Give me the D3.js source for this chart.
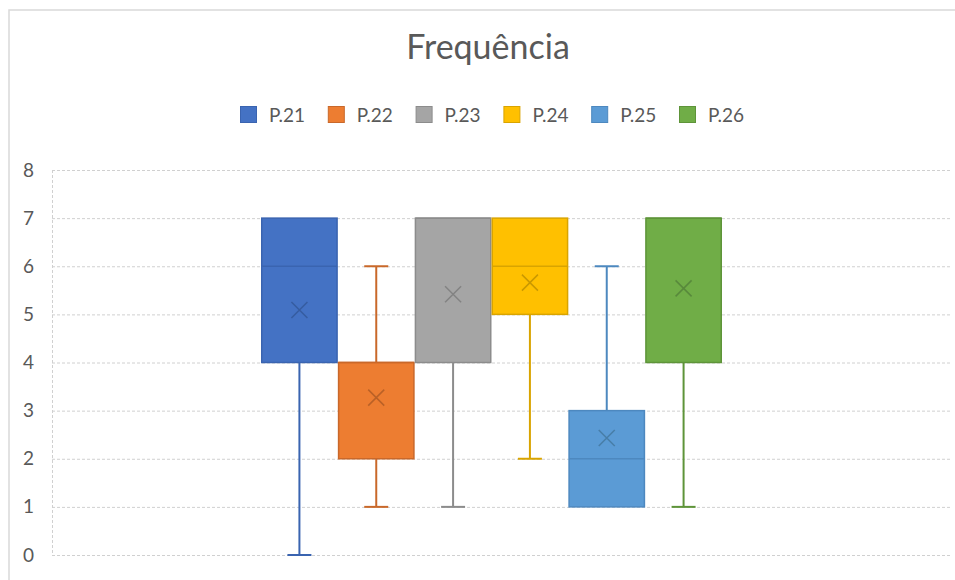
<!DOCTYPE html>
<html>
<head>
<meta charset="utf-8">
<script src="https://cdn.jsdelivr.net/npm/d3@7"></script>
<style>
  html, body { margin: 0; padding: 0; background: #ffffff; }
  svg { display: block; font-family: Lato, "Open Sans", sans-serif; }
</style>
</head>
<body>
<svg id="chart" width="955" height="580"></svg>
<script>
// ---- data ----
const series   = ["P.21", "P.22", "P.23", "P.24", "P.25", "P.26"];
const mins     = [0, 1, 1, 2, 1, 1];
const q1s      = [4, 2, 4, 5, 1, 4];
const medians  = [6, 4, 7, 6, 2, 7];
const q3s      = [7, 4, 7, 7, 3, 7];
const maxs     = [7, 6, 7, 7, 6, 7];
const means    = [5.09, 3.27, 5.42, 5.66, 2.43, 5.54];
const yTicks   = [0, 1, 2, 3, 4, 5, 6, 7, 8];
const fills    = ["#4472C4", "#ED7D31", "#A5A5A5", "#FFC000", "#5B9BD5", "#70AD47"];
const strokes  = ["#3A64B0", "#C9682A", "#8C8C8C", "#D9A400", "#4D88BF", "#5E9439"];
const marks    = ["#34589A", "#B05C25", "#7D7D7D", "#BF9100", "#44789F", "#53833A"];
const title    = "Frequência";

const data = series.map((s, i) => ({
  name: s, min: mins[i], q1: q1s[i], med: medians[i], q3: q3s[i], max: maxs[i],
  mean: means[i], fill: fills[i], stroke: strokes[i], mark: marks[i]
}));

// ---- layout ----
const W = 955, H = 580;
const plot = { left: 52, right: 951, top: 170, bottom: 555 };
const groupLeft = 261, groupRight = 722;   // extent of the one category's boxes
const capHalf = 12;

const svg = d3.select("#chart");

// chart area border
svg.append("rect")
  .attr("x", 9).attr("y", 10).attr("width", W).attr("height", H)
  .attr("fill", "#fff").attr("stroke", "#d9d9d9").attr("stroke-width", 1.5);

// title
svg.append("text")
  .attr("x", 488).attr("y", 59)
  .attr("text-anchor", "middle")
  .attr("font-size", 34)
  .attr("fill", "#595959")
  .text(title);

// scales
const y = d3.scaleLinear().domain([0, 8]).range([plot.bottom, plot.top]);
const x = d3.scaleBand().domain(series).range([groupLeft, groupRight]).paddingInner(0).paddingOuter(0);

// gridlines
const grid = svg.append("g").attr("class", "grid");
grid.selectAll("line").data(yTicks).join("line")
  .attr("x1", plot.left).attr("x2", plot.right)
  .attr("y1", d => y(d) + 0.5).attr("y2", d => y(d) + 0.5)
  .attr("stroke", "#d0d0d0").attr("stroke-width", 1)
  .attr("stroke-dasharray", "3,2");

// left axis line (dashed)
svg.append("line")
  .attr("x1", plot.left + 0.5).attr("x2", plot.left + 0.5)
  .attr("y1", plot.top).attr("y2", plot.bottom)
  .attr("stroke", "#d0d0d0").attr("stroke-width", 1)
  .attr("stroke-dasharray", "3,2");

// y axis labels via d3 axis
const yAxis = d3.axisLeft(y).tickValues(yTicks).tickSize(0).tickPadding(0).tickFormat(d3.format("d"));
const yg = svg.append("g").attr("transform", `translate(${plot.left - 18},0)`).call(yAxis);
yg.select(".domain").remove();
yg.selectAll("text").attr("font-size", 19).attr("fill", "#595959").attr("font-family", "Lato, sans-serif");

// boxes
const boxes = svg.append("g").selectAll("g").data(data).join("g");

// whiskers (vertical)
boxes.append("line")
  .attr("x1", d => x(d.name) + x.bandwidth() / 2).attr("x2", d => x(d.name) + x.bandwidth() / 2)
  .attr("y1", d => y(d.max)).attr("y2", d => y(d.q3))
  .attr("stroke", d => d.stroke).attr("stroke-width", 2);
boxes.append("line")
  .attr("x1", d => x(d.name) + x.bandwidth() / 2).attr("x2", d => x(d.name) + x.bandwidth() / 2)
  .attr("y1", d => y(d.q1)).attr("y2", d => y(d.min))
  .attr("stroke", d => d.stroke).attr("stroke-width", 2);
// caps
boxes.filter(d => d.max > d.q3).append("line")
  .attr("x1", d => x(d.name) + x.bandwidth() / 2 - capHalf).attr("x2", d => x(d.name) + x.bandwidth() / 2 + capHalf)
  .attr("y1", d => y(d.max)).attr("y2", d => y(d.max))
  .attr("stroke", d => d.stroke).attr("stroke-width", 2);
boxes.filter(d => d.min < d.q1).append("line")
  .attr("x1", d => x(d.name) + x.bandwidth() / 2 - capHalf).attr("x2", d => x(d.name) + x.bandwidth() / 2 + capHalf)
  .attr("y1", d => y(d.min)).attr("y2", d => y(d.min))
  .attr("stroke", d => d.stroke).attr("stroke-width", 2);

// box rect
boxes.append("rect")
  .attr("x", d => x(d.name) + 0.75).attr("width", x.bandwidth() - 1.5)
  .attr("y", d => y(d.q3)).attr("height", d => y(d.q1) - y(d.q3))
  .attr("fill", d => d.fill).attr("stroke", d => d.stroke).attr("stroke-width", 1.5);

// median
boxes.append("line")
  .attr("x1", d => x(d.name) + 0.75).attr("x2", d => x(d.name) + x.bandwidth() - 0.75)
  .attr("y1", d => y(d.med)).attr("y2", d => y(d.med))
  .attr("stroke", d => d.stroke).attr("stroke-width", 1.5);

// mean marker (X)
const mk = 8;
boxes.append("path")
  .attr("d", d => {
    const cx = x(d.name) + x.bandwidth() / 2, cy = y(d.mean);
    return `M${cx - mk},${cy - mk}L${cx + mk},${cy + mk}M${cx - mk},${cy + mk}L${cx + mk},${cy - mk}`;
  })
  .attr("stroke", d => d.mark).attr("stroke-width", 1.5).attr("fill", "none").attr("opacity", 0.85);

// legend
const legendX0 = 240, legendStep = 87.8, legendY = 106, sq = 16;
const lg = svg.append("g").selectAll("g").data(data).join("g")
  .attr("transform", (d, i) => `translate(${legendX0 + i * legendStep},${legendY})`);
lg.append("rect")
  .attr("x", 0.5).attr("y", 0.5).attr("width", sq).attr("height", sq)
  .attr("fill", d => d.fill).attr("stroke", d => d.stroke).attr("stroke-width", 1);
lg.append("text")
  .attr("x", 29).attr("y", 15.5)
  .attr("font-size", 19).attr("fill", "#595959")
  .text(d => d.name);
</script>
</body>
</html>
